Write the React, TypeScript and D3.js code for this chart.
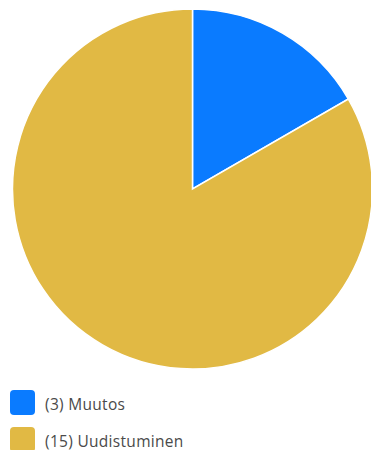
import React from "react";
import * as d3 from "d3";

const labels = ["Muutos", "Uudistuminen"];
const values = [3, 15];
const colors = ["#0A7BFF", "#E1B944"];

export default function App() {
  const width = 371;
  const height = 450;
  const cx = 192.5;
  const cy = 189;
  const r = 180;
  const pie = d3.pie<number>().sort(null).value((d) => d);
  const arcs = pie(values);
  const arc = d3.arc<d3.PieArcDatum<number>>().innerRadius(0).outerRadius(r);
  return (
    <svg
      width={width}
      height={height}
      style={{ position: "absolute", left: 0, top: 0 }}
    >
      <rect width={width} height={height} fill="#fff" />
      <g transform={`translate(${cx},${cy})`}>
        {arcs.map((a, i) => (
          <path
            key={i}
            d={arc(a) || ""}
            fill={colors[i]}
            stroke="#fff"
            strokeWidth={1.5}
          />
        ))}
      </g>
      {labels.map((l, i) => (
        <g key={l} transform={`translate(10,${390 + i * 37})`}>
          <rect width={25} height={25} rx={4} fill={colors[i]} />
          <text
            x={35}
            y={13.5}
            dominantBaseline="central"
            fontFamily="'Open Sans', sans-serif"
            fontSize={15.5}
            letterSpacing={0.3}
            fill="#4a4a4a"
          >
            ({values[i]}) {l}
          </text>
        </g>
      ))}
    </svg>
  );
}
